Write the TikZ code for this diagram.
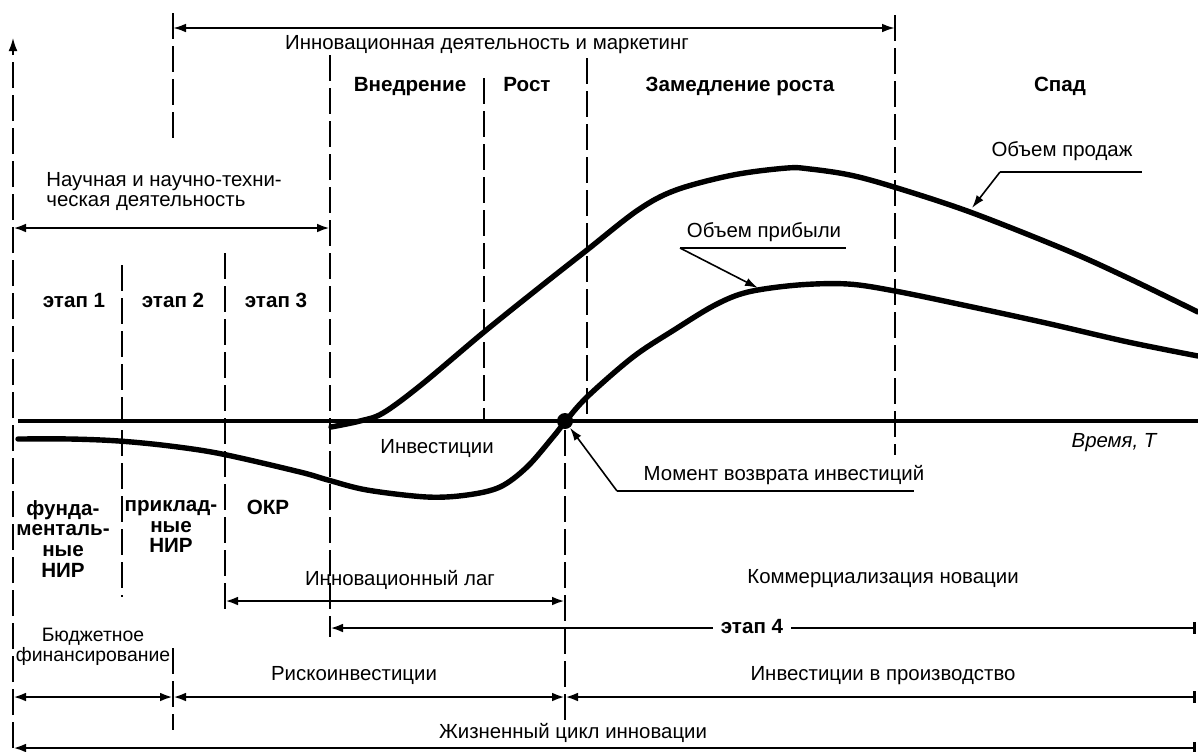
\documentclass[tikz,border=0pt]{standalone}
\usepackage{fontspec}
\setmainfont{Liberation Sans}
\usetikzlibrary{arrows.meta}
\begin{document}
\begin{tikzpicture}[x=0.5pt,y=-0.5pt,
  every node/.style={inner sep=0pt, font=\fontsize{10.2}{10}\selectfont},
  sl/.style={text height=0.72em, text depth=0.22em},
  bld/.style={font=\fontsize{10.3}{10.3}\selectfont\bfseries, align=center},
  dl/.style={line width=0.75pt, dash pattern=on 13pt off 3.5pt},
  arr/.style={line width=1.3pt, {Latex[length=6.5pt,width=4.4pt]}-{Latex[length=6.5pt,width=4.4pt]}},
  arrbar/.style={line width=1.3pt, {Latex[length=6.5pt,width=4.4pt]}-{Bar[width=6pt,line width=1.6pt]}},
  lead/.style={line width=0.8pt, -{Latex[length=6.5pt,width=4.2pt]}},
  uline/.style={line width=0.8pt},
  curve/.style={line width=2.7pt, line cap=round},
  axis/.style={line width=2.3pt}
]
\useasboundingbox (0,0) rectangle (1198,751);

% ---------- coordinates ----------
\coordinate (yTop) at (13,38);
\coordinate (yBot) at (13,748);
\coordinate (axL) at (18,421);
\coordinate (axR) at (1198,421);

\coordinate (v173t) at (173,13);   \coordinate (v173m) at (173,145);
\coordinate (v895t) at (895,15);   \coordinate (v895b) at (895,455);
\coordinate (v330t) at (330,55);   \coordinate (v330b) at (330,637);
\coordinate (v484t) at (484,78);   \coordinate (v484b) at (484,420);
\coordinate (v587t) at (587,58);   \coordinate (v587b) at (587,418);
\coordinate (v122t) at (122,265);  \coordinate (v122b) at (122,597);
\coordinate (v225t) at (225,253);  \coordinate (v225b) at (225,613);
\coordinate (v565t) at (565,430);  \coordinate (v565b) at (565,722);
\coordinate (v173u) at (173,648);  \coordinate (v173d) at (173,730);

\coordinate (topL) at (173,28);    \coordinate (topR) at (895,28);
\coordinate (naL) at (13,228);     \coordinate (naR) at (330,228);
\coordinate (lagL) at (225,601);   \coordinate (lagR) at (565,601);
\coordinate (e4L) at (330,628);    \coordinate (e4R) at (1196,628);
\coordinate (buL) at (13,697);     \coordinate (buR) at (173,697);
\coordinate (riR) at (565,697);
\coordinate (prR) at (1196,697);
\coordinate (liL) at (13,748);     \coordinate (liR) at (1196,748);

% ---------- dashed verticals ----------
\draw[dl, -{Latex[length=6.5pt,width=4.4pt]}] (yBot) -- (yTop);
\draw[dl] (v173t) -- (v173m);
\draw[dl] (v895t) -- (v895b);
\draw[dl] (v330t) -- (v330b);
\draw[dl] (v484t) -- (v484b);
\draw[dl] (v587t) -- (v587b);
\draw[dl] (v122t) -- (v122b);
\draw[dl] (v225t) -- (v225b);
\draw[dl] (v565t) -- (v565b);
\draw[dl] (v173u) -- (v173d);

% ---------- axis ----------
\draw[axis] (axL) -- (axR);

% ---------- curves ----------
\draw[curve] plot[smooth, tension=0.55] coordinates {
 (18,439) (70,439) (119,441) (170,446) (222,454) (300,472) (328,480)
 (367,490) (427,497) (467,495) (500,487) (527,467) (553,437) (565,422)
 (587,397) (633,357) (674,330) (715,305) (748,292) (798,285) (848,284)
 (895,291) (963,305) (1046,323) (1128,342) (1198,356)};
\draw[curve] plot[smooth, tension=0.55] coordinates {
 (331,427) (360,421) (383,413) (421,385) (484,332) (540,287) (587,250)
 (638,210) (676,190) (733,175) (787,168) (810,169) (850,175) (894,187)
 (970,212) (1066,250) (1128,278) (1198,312)};

\node[circle, fill=black, minimum size=8pt] (dot) at (565,421) {};

% ---------- horizontal arrows ----------
\draw[arr, line width=1.1pt] (topL) -- (topR);
\draw[arr] (naL) -- (naR);
\draw[arr] (lagL) -- (lagR);
\draw[arrbar] (e4L) -- (e4R);
\draw[arr] (buL) -- (buR);
\draw[arr] (buR) -- (riR);
\draw[arrbar] (riR) -- (prR);
\draw[arrbar] (liL) -- (liR);

% ---------- texts ----------
\node[sl] (tInn) at (487,44) {Инновационная деятельность и маркетинг};
\node[bld, sl] (tVn) at (410,86) {Внедрение};
\node[bld, sl] (tRo) at (527,86) {Рост};
\node[bld, sl] (tZa) at (740,86) {Замедление роста};
\node[bld, sl] (tSp) at (1060,86) {Спад};

\node[anchor=west, align=left] (tNa) at (46,192) {Научная и научно-техни-\\ческая деятельность};

\node[bld, sl] (tE1) at (74,302) {этап 1};
\node[bld, sl] (tE2) at (173,302) {этап 2};
\node[bld, sl] (tE3) at (276,302) {этап 3};

\node[sl] (tInv) at (437,448) {Инвестиции};
\node[sl, font=\fontsize{10.2}{10}\selectfont\itshape] (tTime) at (1114,442) {Время, Т};

\node[bld, anchor=north] (tFu) at (63,500) {фунда-\\менталь-\\ные\\НИР};
\node[bld, anchor=north] (tPr) at (171,500) {приклад-\\ные\\НИР};
\node[bld, anchor=north] (tOk) at (268,500) {ОКР};

\node[sl] (tLag) at (400,580) {Инновационный лаг};
\node[sl] (tKom) at (883,578) {Коммерциализация новации};
\node[bld, sl, fill=white, inner xsep=4pt, inner ysep=2pt] (tE4) at (752,628) {этап 4};

\node[align=center, font=\fontsize{9.7}{10}\selectfont] (tBu) at (93,647) {Бюджетное\\финансирование};
\node[sl] (tRi) at (354,675) {Рискоинвестиции};
\node[sl] (tPrz) at (883,675) {Инвестиции в производство};
\node[sl] (tLife) at (573,733) {Жизненный цикл инновации};

% ---------- leaders ----------
\node[sl] (tSal) at (1062,151) {Объем продаж};
\coordinate (salA) at (1000,172); \coordinate (salB) at (1142,172);
\coordinate (salTip) at (972,208);
\draw[uline] (salA) -- (salB);
\draw[lead] (salA) -- (salTip);

\node[sl] (tPro) at (764,232) {Объем прибыли};
\coordinate (proA) at (680,248); \coordinate (proB) at (846,248);
\coordinate (proTip) at (758,288);
\draw[uline] (proA) -- (proB);
\draw[lead] (proA) -- (proTip);

\node[sl] (tMom) at (784,475) {Момент возврата инвестиций};
\coordinate (momA) at (617,491); \coordinate (momB) at (914,491);
\draw[uline] (momA) -- (momB);
\draw[lead] (momA) -- (dot);

\end{tikzpicture}
\end{document}
